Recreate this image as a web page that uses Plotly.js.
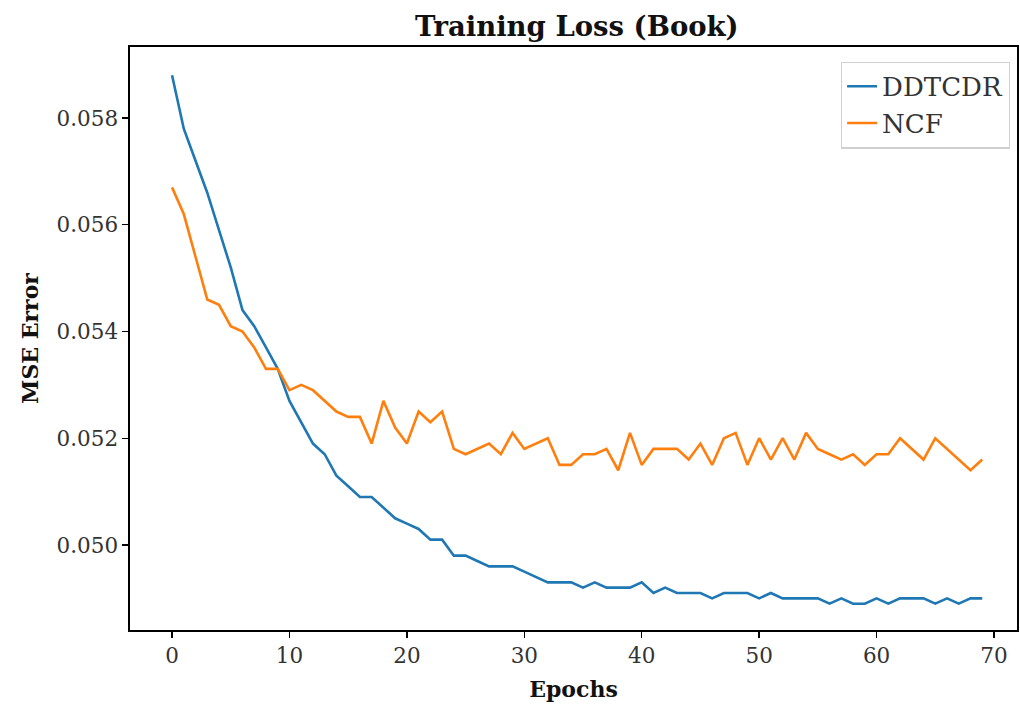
<!DOCTYPE html>
<html>
<head>
<meta charset="utf-8">
<script src="https://cdn.plot.ly/plotly-3.0.1.min.js"></script>
<style>html,body{margin:0;padding:0;background:#fff;}#chart{width:1020px;height:711px;}</style>
</head>
<body>
<div id="chart"></div>
<script>
const epochs = Array.from({length: 70}, (_, i) => i);
const ddtcdr = [
  0.0588, 0.0578, 0.0572, 0.0566, 0.0559, 0.0552, 0.0544, 0.0541, 0.0537, 0.0533,
  0.0527, 0.0523, 0.0519, 0.0517, 0.0513, 0.0511, 0.0509, 0.0509, 0.0507, 0.0505,
  0.0504, 0.0503, 0.0501, 0.0501, 0.0498, 0.0498, 0.0497, 0.0496, 0.0496, 0.0496,
  0.0495, 0.0494, 0.0493, 0.0493, 0.0493, 0.0492, 0.0493, 0.0492, 0.0492, 0.0492,
  0.0493, 0.0491, 0.0492, 0.0491, 0.0491, 0.0491, 0.0490, 0.0491, 0.0491, 0.0491,
  0.0490, 0.0491, 0.0490, 0.0490, 0.0490, 0.0490, 0.0489, 0.0490, 0.0489, 0.0489,
  0.0490, 0.0489, 0.0490, 0.0490, 0.0490, 0.0489, 0.0490, 0.0489, 0.0490, 0.0490
];
const ncf = [
  0.0567, 0.0562, 0.0554, 0.0546, 0.0545, 0.0541, 0.0540, 0.0537, 0.0533, 0.0533,
  0.0529, 0.0530, 0.0529, 0.0527, 0.0525, 0.0524, 0.0524, 0.0519, 0.0527, 0.0522,
  0.0519, 0.0525, 0.0523, 0.0525, 0.0518, 0.0517, 0.0518, 0.0519, 0.0517, 0.0521,
  0.0518, 0.0519, 0.0520, 0.0515, 0.0515, 0.0517, 0.0517, 0.0518, 0.0514, 0.0521,
  0.0515, 0.0518, 0.0518, 0.0518, 0.0516, 0.0519, 0.0515, 0.0520, 0.0521, 0.0515,
  0.0520, 0.0516, 0.0520, 0.0516, 0.0521, 0.0518, 0.0517, 0.0516, 0.0517, 0.0515,
  0.0517, 0.0517, 0.0520, 0.0518, 0.0516, 0.0520, 0.0518, 0.0516, 0.0514, 0.0516
];
const xTicks = [0, 10, 20, 30, 40, 50, 60, 70];
const yTicks = [0.050, 0.052, 0.054, 0.056, 0.058];

const FONT = '"DejaVu Serif", "Liberation Serif", serif';

const traces = [
  {x: epochs, y: ddtcdr, name: 'DDTCDR', mode: 'lines', line: {color: '#1f77b4', width: 2.6}},
  {x: epochs, y: ncf, name: 'NCF', mode: 'lines', line: {color: '#ff7f0e', width: 2.6}}
];

const axisCommon = {
  showgrid: false, zeroline: false, showline: true, mirror: true,
  linecolor: '#000', linewidth: 1.6, ticks: 'outside', ticklen: 6, tickwidth: 1.3,
  tickcolor: '#000', tickfont: {family: FONT, size: 21.5, color: '#333'}
};

const layout = {
  width: 1020, height: 711,
  margin: {l: 130, r: 3, t: 47, b: 81},
  paper_bgcolor: '#fff', plot_bgcolor: '#fff',
  title: {text: '<b>Training Loss (Book)</b>', font: {family: FONT, size: 27.5, color: '#111'},
          x: 0.5655, xanchor: 'center', y: 0.963, yanchor: 'middle'},
  xaxis: Object.assign({}, axisCommon, {
    range: [-3.58, 71.96], tickvals: xTicks, ticktext: xTicks.map(String),
    title: {text: '<b>Epochs</b>', font: {family: FONT, size: 22, color: '#111'}, standoff: 14}
  }),
  yaxis: Object.assign({}, axisCommon, {
    range: [0.048407, 0.05933], tickvals: yTicks, ticktext: yTicks.map(v => v.toFixed(3)),
    title: {text: '<b>MSE Error</b>', font: {family: FONT, size: 22, color: '#111'}, standoff: 12}
  }),
  legend: {
    x: 0.992, xanchor: 'right', y: 0.975, yanchor: 'top',
    bgcolor: 'rgba(255,255,255,0.8)', bordercolor: '#d0d0d0', borderwidth: 1.2,
    font: {family: FONT, size: 26, color: '#333'}, tracegroupgap: 4
  },
  showlegend: true
};

Plotly.newPlot('chart', traces, layout, {displayModeBar: false, staticPlot: true});
</script>
</body>
</html>
